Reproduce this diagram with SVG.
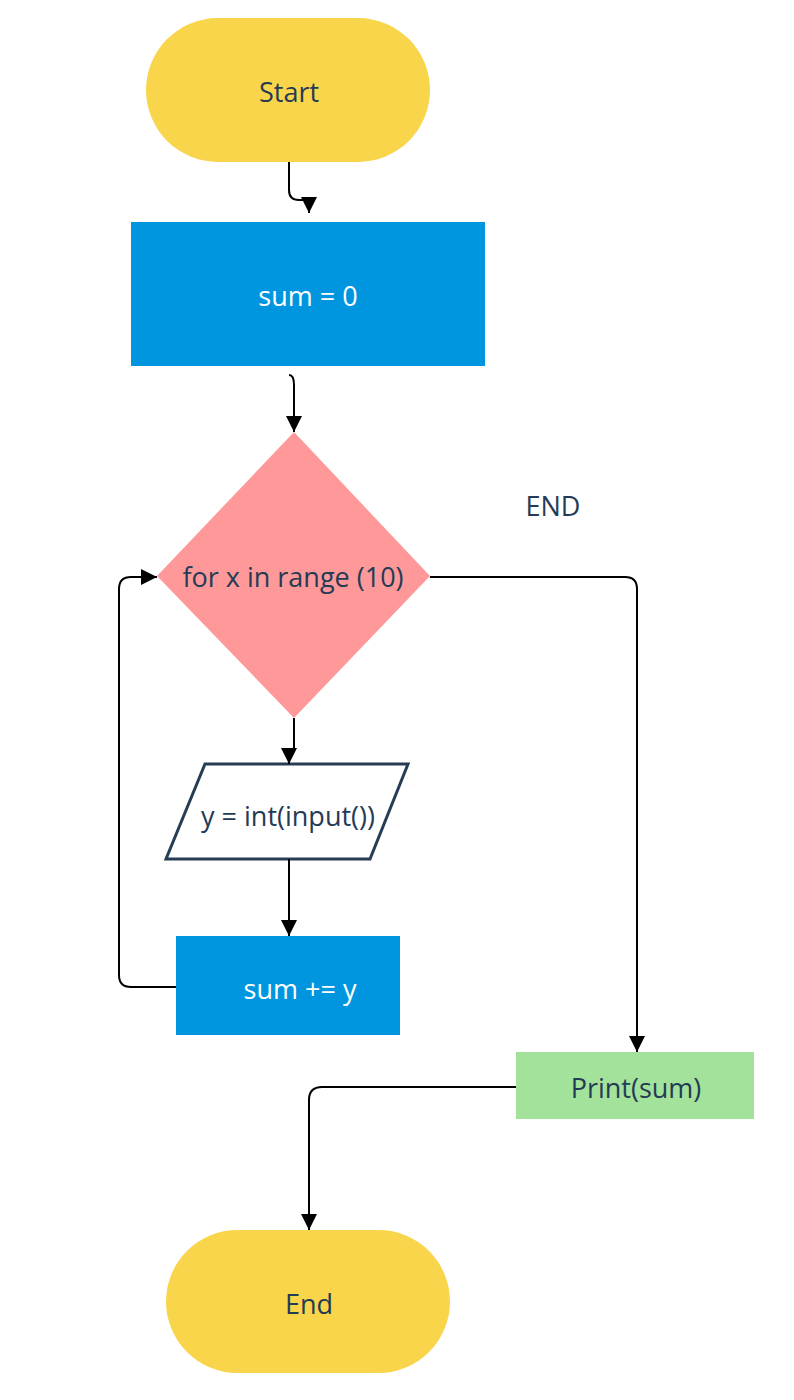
<svg xmlns="http://www.w3.org/2000/svg" width="794" height="1400" viewBox="0 0 794 1400">
  <defs>
    <style>
      .t { font-family: "Open Sans", Lato, "Liberation Sans", sans-serif; font-size: 27px; text-anchor: middle; dominant-baseline: central; fill: #253b55; }
      .w { fill: #ffffff; }
      .c { fill: none; stroke: #000000; stroke-width: 2; marker-end: url(#arr); }
    </style>
    <marker id="arr" viewBox="0 0 10 10" refX="10" refY="5" markerWidth="8" markerHeight="8" markerUnits="strokeWidth" orient="auto">
      <path d="M0,0 L10,5 L0,10 Z" fill="#000000"/>
    </marker>
  </defs>
  <rect width="794" height="1400" fill="#ffffff"/>

  <g id="start">
    <rect x="146" y="18" width="284" height="144" rx="72" ry="72" fill="#f8d54b"/>
    <text class="t" x="289" y="91">Start</text>
  </g>
  <g id="init">
    <rect x="131" y="222" width="354" height="144" fill="#0096df"/>
    <text class="t w" x="308" y="295">sum = 0</text>
  </g>
  <g id="loop">
    <polygon points="294,432 430,576 294,718 157,576" fill="#ff9999"/>
    <text class="t" x="293" y="576">for x in range (10)</text>
  </g>
  <g id="endlabel">
    <text class="t" x="553" y="505">END</text>
  </g>
  <g id="input">
    <polygon points="205,764 408,764 370,859 166,859" fill="#ffffff" stroke="#263d55" stroke-width="3" stroke-linejoin="miter"/>
    <text class="t" x="288" y="815">y = int(input())</text>
  </g>
  <g id="add">
    <rect x="176" y="936" width="224" height="99" fill="#0096df"/>
    <text class="t w" x="300" y="988">sum += y</text>
  </g>
  <g id="print">
    <rect x="516" y="1052" width="238" height="67" fill="#a3e29a"/>
    <text class="t" x="636" y="1087">Print(sum)</text>
  </g>
  <g id="end">
    <rect x="166" y="1230" width="284" height="143" rx="71.5" ry="71.5" fill="#f8d54b"/>
    <text class="t" x="309" y="1303">End</text>
  </g>

  <g id="connectors">
    <path class="c" d="M289,162 L289,190 Q289,200 299,200 L304,200 Q309,200 309,205 L309,213"/>
    <path class="c" d="M289,375 Q294,375 294,385 L294,432"/>
    <path class="c" d="M430,577 L625,577 Q637,577 637,589 L637,1052"/>
    <path class="c" d="M294,718 L294,748 Q289,752 289,760 L289,764"/>
    <path class="c" d="M289,859 L289,936"/>
    <path class="c" d="M176,987 L131,987 Q119,987 119,975 L119,589 Q119,577 131,577 L157,577"/>
    <path class="c" d="M516,1087 L322,1087 Q309,1087 309,1100 L309,1230"/>
  </g>
</svg>
